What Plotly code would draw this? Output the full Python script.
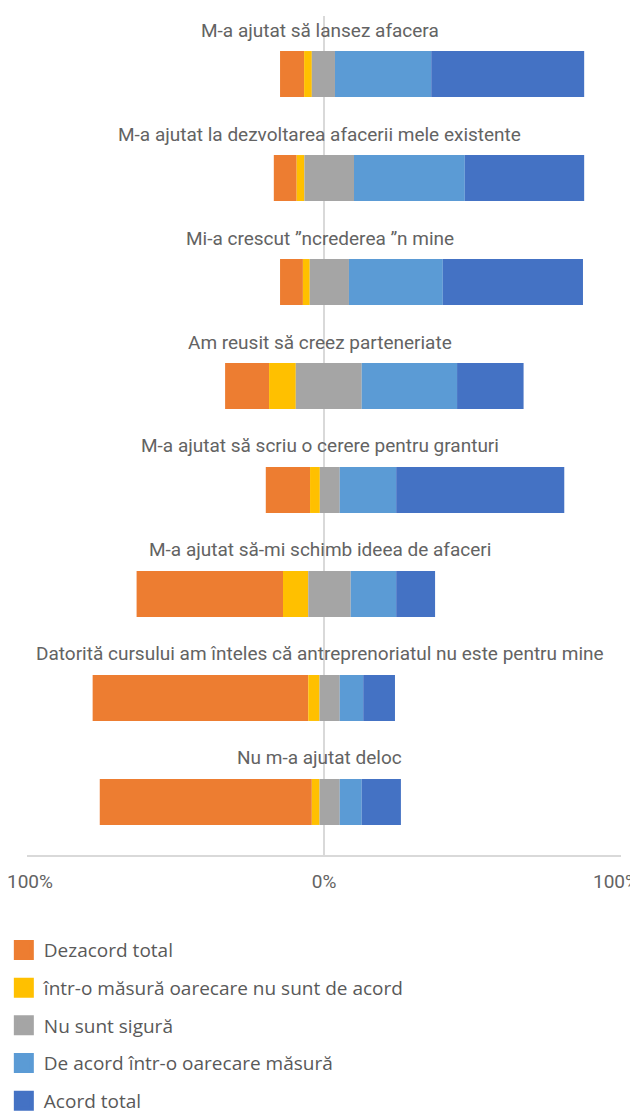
import plotly.graph_objects as go

categories = [
    "M-a ajutat să lansez afacera",
    "M-a ajutat la dezvoltarea afacerii mele existente",
    "Mi-a crescut ”ncrederea ”n mine",
    "Am reusit să creez parteneriate",
    "M-a ajutat să scriu o cerere pentru granturi",
    "M-a ajutat să-mi schimb ideea de afaceri",
    "Datorită cursului am înteles că antreprenoriatul nu este pentru mine",
    "Nu m-a ajutat deloc",
]

# where each bar begins on the left (%)
bar_start = [-14.8, -16.9, -14.8, -33.3, -19.6, -63.1, -77.9, -75.5]

dezacord_total = [8.1, 7.7, 7.7, 14.8, 14.9, 49.3, 72.6, 71.4]
dezacord_partial = [2.6, 2.6, 2.3, 9.0, 3.3, 8.5, 3.8, 2.6]
nu_sunt_sigura = [7.8, 16.7, 13.2, 22.2, 6.7, 14.3, 6.8, 6.8]
acord_partial = [32.4, 37.3, 31.6, 32.1, 19.0, 15.3, 7.9, 7.4]
acord_total = [51.5, 40.2, 47.2, 22.4, 56.6, 13.1, 10.7, 13.2]

grid_vals = [-100, 0, 100]
# the edge labels sit a little inside the edge gridlines, as in the source
tick_vals = [-99, 0, 98.3]
tick_text = ["100%", "0%", "100%"]

series = [
    ("Dezacord total", dezacord_total, "#ED7D31"),
    ("într-o măsură oarecare nu sunt de acord", dezacord_partial, "#FFC000"),
    ("Nu sunt sigură", nu_sunt_sigura, "#A5A5A5"),
    ("De acord într-o oarecare măsură", acord_partial, "#5B9BD5"),
    ("Acord total", acord_total, "#4472C4"),
]

TITLE_FONT = "Roboto"
TEXT_COLOR = "#636363"
GRID = "#d9d9d9"

fig = go.Figure()

base = list(bar_start)
for name, vals, color in series:
    fig.add_trace(
        go.Bar(
            y=categories,
            x=vals,
            base=base,
            orientation="h",
            width=0.442,
            marker=dict(color=color, line=dict(width=0)),
            name=name,
            showlegend=False,
            hoverinfo="name+x",
        )
    )
    base = [b + v for b, v in zip(base, vals)]

# legend entries with bigger square swatches
for name, vals, color in series:
    fig.add_trace(
        go.Scatter(
            x=[None],
            y=[None],
            mode="markers",
            marker=dict(symbol="square", size=16, color=color, line=dict(color=color, width=4)),
            name=name,
            legendgroup=name,
            showlegend=True,
        )
    )

# category titles above each bar
for cat in categories:
    fig.add_annotation(
        x=0.493,
        xref="paper",
        y=cat,
        yref="y",
        yshift=44,
        text=cat,
        showarrow=False,
        font=dict(family=TITLE_FONT, size=19, color=TEXT_COLOR),
    )

# the page adds an 8px body margin, so the figure is 8px smaller
fig.update_layout(
    width=630,
    height=1105,
    margin=dict(l=19, r=17, t=8, b=258, autoexpand=False),
    barmode="overlay",
    plot_bgcolor="white",
    paper_bgcolor="white",
    showlegend=True,
    legend=dict(
        orientation="v",
        x=-0.039,
        xanchor="left",
        y=-0.0907,
        yanchor="top",
        font=dict(family="Open Sans", size=19, color="#595959"),
        tracegroupgap=10,
        bgcolor="rgba(0,0,0,0)",
    ),
)

fig.update_xaxes(
    range=[-100, 100],
    tickvals=tick_vals,
    ticktext=tick_text,
    showgrid=False,
    minor=dict(tickvals=grid_vals, showgrid=True, gridcolor=GRID, gridwidth=1.5, ticks=""),
    zeroline=False,
    showline=True,
    linecolor=GRID,
    linewidth=1.5,
    ticks="",
    ticklabelstandoff=8,
    ticklabeloverflow="allow",
    automargin=False,
    tickfont=dict(family=TITLE_FONT, size=19, color=TEXT_COLOR),
    fixedrange=True,
)
fig.update_yaxes(
    type="category",
    categoryorder="array",
    categoryarray=categories,
    range=[7.51, -0.558],
    showticklabels=False,
    showgrid=False,
    zeroline=False,
    showline=False,
    automargin=False,
    fixedrange=True,
)

fig.write_html("out.html")
